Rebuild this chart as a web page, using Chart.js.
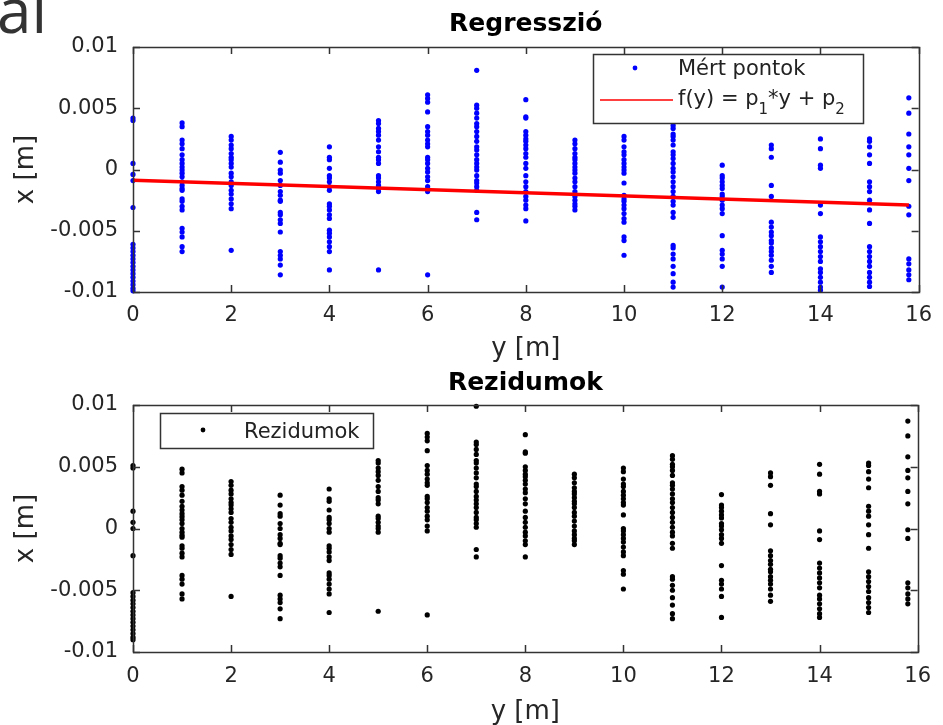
<!DOCTYPE html>
<html>
<head>
<meta charset="utf-8">
<script src="https://cdn.jsdelivr.net/npm/chart.js@4.4.1/dist/chart.umd.min.js"></script>
<style>
    html, body { margin: 0; padding: 0; background: #fff; }
    body { width: 943px; height: 725px; position: relative; overflow: hidden; }
    #frag { position: absolute; left: -3px; top: -22px; font: 62px/1 'Open Sans', sans-serif; color: #333; }
    canvas { position: absolute; left: 0; }
    #topChart { top: 0; }
    #bottomChart { top: 362px; }
</style>
</head>
<body>
<div id="frag">al</div>
<canvas id="topChart" width="943" height="362"></canvas>
<canvas id="bottomChart" width="943" height="363"></canvas>
<script>
// y positions of the measuring columns [m]
const columnY = [0, 1, 2, 3, 4, 5, 6, 7, 8, 9, 10, 11, 12, 13, 14, 15, 15.8];

// measured x values per column, in mm (axis ticks are labelled in m)
const measured = [
    [4.2, 4.0, 0.5, -0.4, -0.9, -3.1, -6.1, -6.4, -6.7, -7.0, -7.3, -7.6, -7.9, -8.2, -8.5, -8.8, -9.1, -9.4, -9.7, -9.9],
    [3.8, 3.5, 2.4, 2.1, 1.7, 1.2, 0.8, 0.5, 0.2, -0.05, -0.3, -0.6, -1.0, -1.3, -1.55, -1.7, -2.4, -2.6, -3.0, -3.3, -4.8, -5.1, -5.5, -6.3, -6.7],
    [2.7, 2.4, 2.0, 1.7, 1.3, 1.0, 0.8, 0.5, 0.2, -0.3, -0.6, -1.0, -1.3, -1.7, -2.0, -2.4, -2.8, -3.2, -6.6],
    [1.4, 0.6, -0.05, -0.3, -0.9, -1.3, -1.8, -2.1, -2.5, -2.6, -3.5, -3.7, -4.1, -4.4, -5.1, -6.7, -7.0, -7.3, -7.8, -8.6],
    [1.85, 1.0, 0.8, 0.1, -0.5, -0.7, -1.0, -1.4, -1.7, -2.8, -3.0, -3.3, -3.7, -4.0, -4.95, -5.2, -5.5, -5.9, -6.3, -6.7, -8.2],
    [4.0, 3.75, 3.35, 3.1, 2.8, 2.4, 1.85, 1.45, 1.0, 0.8, 0.5, -0.5, -0.7, -1.0, -1.3, -1.55, -1.8, -8.2],
    [6.1, 5.8, 5.5, 4.7, 3.5, 3.1, 2.8, 2.4, 2.1, 1.85, 1.0, 0.8, 0.5, 0.1, -0.2, -0.6, -0.9, -1.4, -1.8, -8.6],
    [8.1, 5.25, 5.0, 4.6, 4.2, 3.75, 3.5, 3.1, 2.7, 2.3, 1.85, 1.6, 1.2, 0.8, 0.5, 0.2, -0.05, -0.5, -0.9, -1.1, -1.4, -1.7, -3.5, -4.1],
    [5.7, 4.3, 4.2, 3.1, 2.8, 2.5, 2.3, 2.0, 1.7, 1.3, 1.0, 0.5, 0.1, -0.5, -1.0, -1.4, -1.8, -2.2, -2.5, -2.9, -3.2, -4.2],
    [2.4, 2.1, 1.7, 1.3, 1.0, 0.8, 0.5, 0.2, -0.05, -0.3, -0.7, -1.0, -1.4, -1.8, -2.2, -2.5, -2.8, -3.0, -3.3],
    [2.7, 2.4, 1.85, 1.45, 1.2, 0.8, 0.5, 0.2, -0.05, -0.3, -1.1, -2.1, -2.4, -2.6, -2.9, -3.2, -3.6, -4.0, -4.3, -5.5, -5.8, -7.0],
    [3.6, 3.35, 2.9, 2.7, 2.4, 2.0, 1.45, 1.2, 0.9, 0.5, 0.1, -0.2, -0.6, -1.0, -1.4, -1.8, -2.2, -2.6, -2.9, -3.5, -3.9, -6.2, -6.4, -6.9, -7.3, -7.9, -8.5, -9.2, -9.6],
    [0.35, -0.5, -0.7, -1.0, -1.3, -1.55, -2.0, -2.2, -2.5, -2.9, -3.2, -3.6, -5.4, -6.6, -6.9, -7.3, -7.9, -9.6],
    [2.0, 1.7, 1.0, -1.3, -2.2, -4.3, -4.7, -5.1, -5.4, -5.8, -6.0, -6.4, -6.7, -7.0, -7.4, -7.9, -8.4],
    [2.5, 1.7, 0.35, 0.1, -2.9, -3.6, -5.5, -5.9, -6.3, -6.7, -7.1, -7.5, -8.1, -8.4, -8.8, -9.2, -9.6, -9.85],
    [2.5, 2.3, 1.85, 1.2, 0.5, -1.0, -1.4, -1.8, -2.5, -3.3, -4.4, -6.3, -6.7, -7.1, -7.5, -7.9, -8.4, -8.8, -9.2, -9.55],
    [5.85, 4.6, 2.9, 1.85, 1.2, 0.1, -0.9, -3.0, -3.7, -7.3, -7.7, -8.2, -8.6, -9.0]
];

// residuals per column, in mm
const residuals = [
    [5.1, 4.9, 1.4, 0.5, 0.0, -2.2, -5.2, -5.5, -5.8, -6.1, -6.4, -6.7, -7.0, -7.3, -7.6, -7.9, -8.2, -8.5, -8.8, -9.0],
    [4.8, 4.5, 3.4, 3.1, 2.7, 2.2, 1.8, 1.5, 1.2, 0.96, 0.7, 0.4, 0.0, -0.3, -0.54, -0.7, -1.4, -1.6, -2.0, -2.3, -3.8, -4.1, -4.5, -5.3, -5.7],
    [3.8, 3.5, 3.1, 2.8, 2.4, 2.1, 1.9, 1.6, 1.3, 0.8, 0.5, 0.1, -0.2, -0.6, -0.9, -1.3, -1.7, -2.1, -5.5],
    [2.7, 1.9, 1.2, 1.0, 0.4, 0.0, -0.5, -0.8, -1.2, -1.3, -2.2, -2.4, -2.8, -3.1, -3.8, -5.4, -5.7, -6.0, -6.5, -7.3],
    [3.2, 2.4, 2.2, 1.5, 0.9, 0.7, 0.4, 0.0, -0.3, -1.4, -1.6, -1.9, -2.3, -2.6, -3.6, -3.8, -4.1, -4.5, -4.9, -5.3, -6.8],
    [5.5, 5.3, 4.9, 4.6, 4.3, 3.9, 3.4, 3.0, 2.5, 2.3, 2.0, 1.0, 0.8, 0.5, 0.2, 0.0, -0.3, -6.7],
    [7.7, 7.4, 7.1, 6.3, 5.1, 4.7, 4.4, 4.0, 3.7, 3.5, 2.6, 2.4, 2.1, 1.7, 1.4, 1.0, 0.7, 0.2, -0.2, -7.0],
    [9.9, 7.0, 6.8, 6.4, 6.0, 5.5, 5.3, 4.9, 4.5, 4.1, 3.6, 3.4, 3.0, 2.6, 2.3, 2.0, 1.7, 1.3, 0.9, 0.7, 0.4, 0.1, -1.7, -2.3],
    [7.6, 6.2, 6.1, 5.0, 4.7, 4.4, 4.2, 3.9, 3.6, 3.2, 2.9, 2.4, 2.0, 1.4, 0.9, 0.5, 0.1, -0.3, -0.6, -1.0, -1.3, -2.3],
    [4.4, 4.1, 3.7, 3.3, 3.0, 2.8, 2.5, 2.2, 2.0, 1.7, 1.3, 1.0, 0.6, 0.2, -0.2, -0.5, -0.8, -1.0, -1.3],
    [4.9, 4.6, 4.0, 3.6, 3.4, 3.0, 2.7, 2.4, 2.1, 1.9, 1.1, 0.0, -0.2, -0.5, -0.8, -1.1, -1.5, -1.9, -2.2, -3.4, -3.7, -4.9],
    [5.9, 5.6, 5.2, 5.0, 4.7, 4.3, 3.7, 3.5, 3.2, 2.8, 2.4, 2.1, 1.7, 1.3, 0.9, 0.5, 0.1, -0.3, -0.6, -1.2, -1.6, -3.9, -4.1, -4.6, -5.0, -5.6, -6.2, -6.9, -7.3],
    [2.75, 1.9, 1.7, 1.4, 1.1, 0.85, 0.4, 0.2, -0.1, -0.5, -0.8, -1.2, -3.0, -4.2, -4.5, -4.9, -5.5, -7.2],
    [4.5, 4.2, 3.5, 1.2, 0.3, -1.8, -2.2, -2.6, -2.9, -3.3, -3.5, -3.9, -4.2, -4.5, -4.9, -5.4, -5.9],
    [5.2, 4.4, 3.0, 2.8, -0.2, -0.9, -2.8, -3.2, -3.6, -4.0, -4.4, -4.8, -5.4, -5.7, -6.1, -6.5, -6.9, -7.2],
    [5.3, 5.1, 4.6, 4.0, 3.3, 1.8, 1.4, 1.0, 0.3, -0.5, -1.6, -3.5, -3.9, -4.3, -4.7, -5.1, -5.6, -6.0, -6.4, -6.8],
    [8.7, 7.5, 5.8, 4.7, 4.1, 3.0, 2.0, -0.1, -0.8, -4.4, -4.8, -5.3, -5.7, -6.1]
];

// fitted line end points (y in m, x in mm)
const fitY = [0, 15.8];
const fitX = [-0.88, -2.89];

// axis ticks
const xTickValues = [0, 2, 4, 6, 8, 10, 12, 14, 16];
const yTickValues = [-10, -5, 0, 5, 10];
const yTickLabels = ['-0.01', '-0.005', '0', '0.005', '0.01'];

const FONT = "'DejaVu Sans', sans-serif";
const TICK_LEN = 7;

function toPoints(cols) {
    const pts = [];
    cols.forEach((col, i) => col.forEach(v => pts.push({ x: columnY[i], y: v })));
    return pts;
}

// box around the plot with inward ticks on all four sides
const framePlugin = {
    id: 'frame',
    afterDatasetsDraw(chart) {
        const { ctx, chartArea: a, scales: { x, y } } = chart;
        ctx.save();
        ctx.strokeStyle = '#333';
        ctx.lineWidth = 1.5;
        ctx.beginPath();
        x.ticks.forEach(t => {
            const px = Math.round(x.getPixelForValue(t.value)) + 0.5;
            ctx.moveTo(px, a.bottom); ctx.lineTo(px, a.bottom - TICK_LEN);
            ctx.moveTo(px, a.top); ctx.lineTo(px, a.top + TICK_LEN);
        });
        y.ticks.forEach(t => {
            const py = Math.round(y.getPixelForValue(t.value)) + 0.5;
            ctx.moveTo(a.left, py); ctx.lineTo(a.left + TICK_LEN, py);
            ctx.moveTo(a.right, py); ctx.lineTo(a.right - TICK_LEN, py);
        });
        ctx.stroke();
        ctx.strokeRect(Math.round(a.left) + 0.5, Math.round(a.top) + 0.5,
            Math.round(a.right - a.left), Math.round(a.bottom - a.top));
        ctx.restore();
    }
};

// draws "p_1" style text with lowered small subscripts
function drawRich(ctx, text, x, baseline, size) {
    const parts = text.split(/_(\d)/);
    let cx = x;
    parts.forEach((p, i) => {
        const sub = i % 2 === 1;
        ctx.font = (sub ? Math.round(size * 0.7) : size) + 'px ' + FONT;
        ctx.fillText(p, cx, sub ? baseline + 9 : baseline);
        cx += ctx.measureText(p).width;
    });
}

// MATLAB-like legend box placed inside the axes
const boxLegendPlugin = {
    id: 'boxLegend',
    afterDraw(chart, args, opts) {
        if (!opts.box) return;
        const { ctx } = chart;
        const [bx, by, bw, bh] = opts.box;
        ctx.save();
        ctx.fillStyle = '#fff';
        ctx.fillRect(bx, by, bw, bh);
        ctx.strokeStyle = '#333';
        ctx.lineWidth = 1.5;
        ctx.strokeRect(bx + 0.5, by + 0.5, bw, bh);
        opts.items.forEach(it => {
            if (it.kind === 'dot') {
                ctx.fillStyle = it.color;
                ctx.beginPath();
                ctx.arc(it.sym[0], it.rowY, 2.4, 0, Math.PI * 2);
                ctx.fill();
            } else {
                ctx.strokeStyle = it.color;
                ctx.lineWidth = 1.5;
                ctx.beginPath();
                ctx.moveTo(it.sym[0], it.rowY);
                ctx.lineTo(it.sym[1], it.rowY);
                ctx.stroke();
            }
            ctx.fillStyle = '#222';
            ctx.textBaseline = 'alphabetic';
            ctx.textAlign = 'left';
            drawRich(ctx, it.text, opts.textX, it.baseline, 21);
        });
        ctx.restore();
    }
};

function makeOptions(title, titlePad, xHeight, tickPad, legend) {
    return {
        responsive: false,
        animation: false,
        events: [],
        layout: { padding: { left: 0, right: 15, top: 0, bottom: 0 } },
        plugins: {
            legend: { display: false },
            tooltip: { enabled: false },
            title: {
                display: true,
                fullSize: false,
                text: title,
                color: '#000',
                font: { family: FONT, size: 25, weight: 'bold', lineHeight: 1 },
                padding: titlePad
            },
            boxLegend: legend
        },
        scales: {
            x: {
                type: 'linear',
                min: 0, max: 16,
                afterBuildTicks: s => { s.ticks = xTickValues.map(v => ({ value: v })); },
                afterFit: s => { s.height = xHeight; },
                grid: { display: false, drawTicks: false },
                border: { display: false },
                ticks: {
                    color: '#262626', padding: tickPad, maxRotation: 0, autoSkip: false,
                    font: { family: FONT, size: 21 },
                    callback: v => String(v)
                },
                title: {
                    display: true, text: 'y [m]', color: '#262626',
                    font: { family: FONT, size: 26, lineHeight: 1 },
                    padding: { top: 0, bottom: 0 }
                }
            },
            y: {
                type: 'linear',
                min: -10, max: 10,
                afterBuildTicks: s => { s.ticks = yTickValues.map(v => ({ value: v })); },
                afterFit: s => { s.width = 133; },
                grid: { display: false, drawTicks: false },
                border: { display: false },
                ticks: {
                    color: '#262626', padding: 15, autoSkip: false,
                    font: { family: FONT, size: 21 },
                    callback: v => yTickLabels[yTickValues.indexOf(v)]
                },
                title: {
                    display: true, text: 'x [m]', color: '#262626',
                    font: { family: FONT, size: 26, lineHeight: 1 },
                    padding: { top: 13, bottom: 0 }
                }
            }
        }
    };
}

new Chart(document.getElementById('topChart'), {
    type: 'scatter',
    data: {
        datasets: [
            {
                type: 'line',
                data: fitY.map((v, i) => ({ x: v, y: fitX[i] })),
                borderColor: '#ff0000',
                borderWidth: 3.5,
                pointRadius: 0,
                fill: false,
                clip: false,
                order: 0
            },
            {
                data: toPoints(measured),
                backgroundColor: '#0000ff',
                borderWidth: 0,
                pointRadius: 2.6,
                clip: false,
                order: 1
            }
        ]
    },
    options: makeOptions('Regresszió', { top: 12, bottom: 10 }, 70, 11, {
        box: [593, 54, 270, 69],
        textX: 678,
        items: [
            { kind: 'dot', color: '#0000ff', sym: [635], rowY: 68, text: 'Mért pontok', baseline: 75 },
            { kind: 'line', color: '#ff0000', sym: [600, 673], rowY: 100, text: 'f(y) = p_1*y + p_2', baseline: 105 }
        ]
    }),
    plugins: [framePlugin, boxLegendPlugin]
});

new Chart(document.getElementById('bottomChart'), {
    type: 'scatter',
    data: {
        datasets: [
            {
                data: toPoints(residuals),
                backgroundColor: '#000',
                borderWidth: 0,
                pointRadius: 2.6,
                clip: false
            }
        ]
    },
    options: makeOptions('Rezidumok', { top: 9, bottom: 9 }, 73, 12, {
        box: [160, 51, 213, 35],
        textX: 244,
        items: [
            { kind: 'dot', color: '#000', sym: [203], rowY: 68, text: 'Rezidumok', baseline: 76 }
        ]
    }),
    plugins: [framePlugin, boxLegendPlugin]
});
</script>
</body>
</html>
